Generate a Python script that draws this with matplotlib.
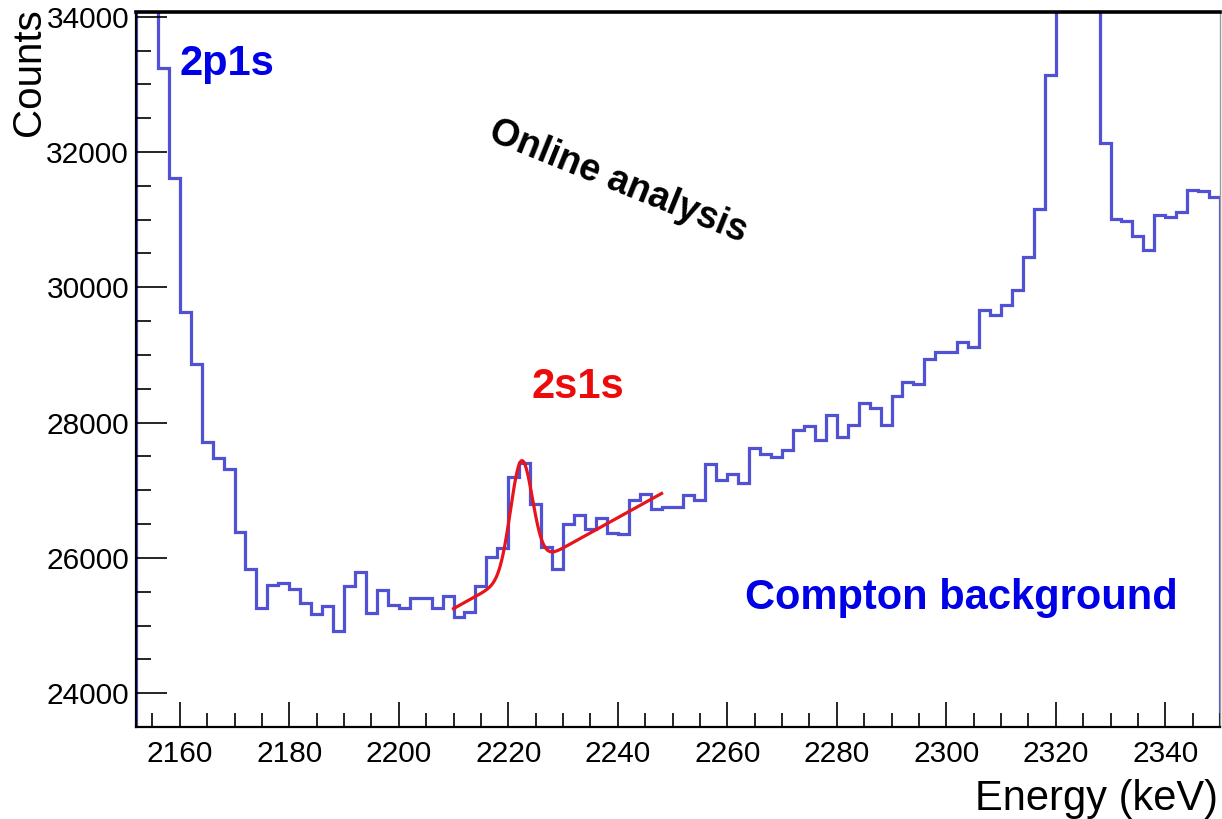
import numpy as np
import matplotlib
matplotlib.use("Agg")
import matplotlib.pyplot as plt
from matplotlib.ticker import MultipleLocator
from matplotlib import font_manager

# ---- histogram: 2 keV bins from 2152 to 2350 keV ----
bin_start = 2152
bin_width = 2
counts = [
    36500, 35200, 33240, 31620, 29630, 28860, 27710, 27480, 27310, 26380,
    25830, 25260, 25600, 25630, 25540, 25330, 25175, 25290, 24920, 25580,
    25790, 25190, 25520, 25300, 25265, 25405, 25405, 25265, 25430, 25125,
    25200, 25580, 26010, 26150, 27195, 27405, 26800, 26165, 25830, 26500,
    26640, 26430, 26595, 26370, 26360, 26850, 26950, 26730, 26750, 26750,
    26925, 26860, 27385, 27145, 27235, 27100, 27625, 27530, 27490, 27590,
    27885, 27945, 27750, 28105, 27790, 27960, 28290, 28220, 27960, 28400,
    28600, 28575, 28945, 29045, 29045, 29190, 29120, 29660, 29590, 29735,
    29955, 30450, 31165, 33135, 35000, 36500, 36000, 35000, 32130, 31005,
    30980, 30755, 30550, 31065, 31040, 31115, 31445, 31425, 31335,
]

# ---- Gaussian + linear background fit of the 2s1s line ----
fit_range = (2210, 2248)
gauss_amp = 1630
gauss_mean = 2222.4
gauss_sigma = 2.0
bg_at_start = 25250
bg_slope = 44.8

x_range = (2152, 2350)
y_range = (23500, 34070)

x_ticks = [2160, 2180, 2200, 2220, 2240, 2260, 2280, 2300, 2320, 2340]
y_ticks = [24000, 26000, 28000, 30000, 32000, 34000]

plt.rcParams["font.family"] = ["Liberation Sans", "DejaVu Sans"]

# tall, narrow tick numbers if the narrow face is installed
try:
    font_manager.findfont(font_manager.FontProperties(family="Liberation Sans Narrow"),
                          fallback_to_default=False)
    tick_font = {"family": ["Liberation Sans Narrow", "Liberation Sans"], "size": 25.5}
except Exception:
    tick_font = {"family": ["Liberation Sans", "DejaVu Sans"], "size": 21.5}

fig = plt.figure(figsize=(12.22, 8.19), dpi=100)
ax = fig.add_axes([136 / 1222, 1 - 727 / 819, (1220 - 136) / 1222, (727 - 12) / 819])

edges = bin_start + bin_width * np.arange(len(counts) + 1)
ax.stairs(counts, edges, color="#5151d3", lw=2.3)

fx = np.linspace(fit_range[0], fit_range[1], 300)
fy = (bg_at_start + bg_slope * (fx - fit_range[0])
      + gauss_amp * np.exp(-0.5 * ((fx - gauss_mean) / gauss_sigma) ** 2))
ax.plot(fx, fy, color="#e8141a", lw=2.3)

ax.set_xlim(*x_range)
ax.set_ylim(*y_range)

ax.set_xticks(x_ticks)
ax.set_yticks(y_ticks)
ax.xaxis.set_minor_locator(MultipleLocator(5))
ax.yaxis.set_minor_locator(MultipleLocator(500))
ax.tick_params(axis="both", which="both", direction="in", top=False, right=False,
               color="black", width=1.2)
ax.tick_params(axis="x", which="major", length=18, pad=9)
ax.tick_params(axis="x", which="minor", length=10)
ax.tick_params(axis="y", which="major", length=22, pad=5)
ax.tick_params(axis="y", which="minor", length=11)
for lab in ax.get_xticklabels() + ax.get_yticklabels():
    lab.set_family(tick_font["family"])
    lab.set_fontsize(tick_font["size"])

for side in ("left", "bottom"):
    ax.spines[side].set_linewidth(1.6)
    ax.spines[side].set_color("black")
ax.spines["top"].set_linewidth(2.6)
ax.spines["top"].set_color("black")
ax.spines["right"].set_linewidth(1.0)
ax.spines["right"].set_color("#9a9a9a")

fig.text(1218 / 1222, 1 - 810 / 819, "Energy (keV)", ha="right", va="baseline", fontsize=30)
fig.text(29 / 1222, 1 - 8 / 819, "Counts", rotation=90, ha="center", va="top", fontsize=29)

ax.text(2160, 33137, "2p1s", color="#0000e6", fontsize=30, fontweight="bold",
        ha="left", va="baseline")
ax.text(2232.7, 28359, "2s1s", color="#ee0a0a", fontsize=30, fontweight="bold",
        ha="center", va="baseline")
ax.text(2263.2, 25249, "Compton background", color="#0000e6", fontsize=30,
        fontweight="bold", ha="left", va="baseline")
ax.text(2240, 31560, "Online analysis", color="black", fontsize=27, fontweight="bold",
        ha="center", va="center", rotation=-22)

fig.savefig("out.png", dpi=100)
